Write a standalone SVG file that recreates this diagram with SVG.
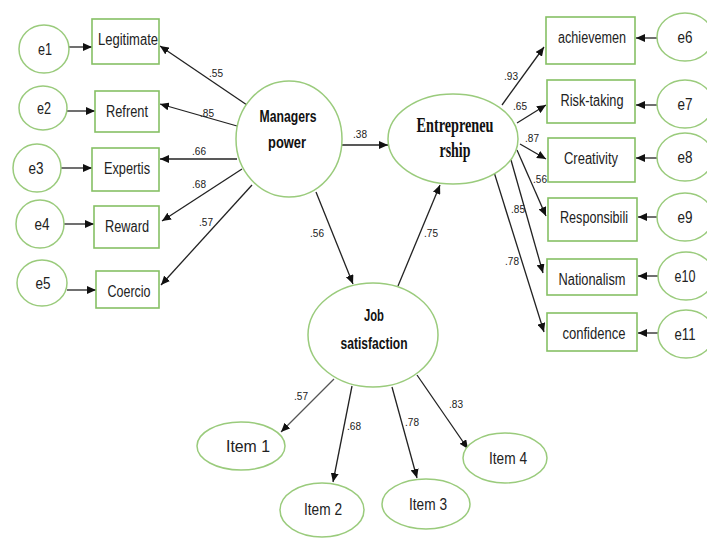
<svg xmlns="http://www.w3.org/2000/svg" width="707" height="540" viewBox="0 0 707 540">
<defs>
<marker id="ah" markerUnits="userSpaceOnUse" markerWidth="10" markerHeight="8" refX="9" refY="4" orient="auto">
<path d="M0,0 L9,4 L0,8 Z" fill="#111"/>
</marker>
<style>
.box{fill:#fff;stroke:#86c064;stroke-width:1.6}
.ell{fill:#fff;stroke:#9acb7c;stroke-width:1.5}
.ln{stroke:#222;stroke-width:1.3;fill:none;marker-end:url(#ah)}
.t{font-family:"Liberation Sans",Arial,sans-serif;font-size:16px;fill:#222;text-anchor:middle}
.lab{font-family:"Liberation Sans",Arial,sans-serif;font-size:11.5px;fill:#222;text-anchor:middle}
.b{font-family:"Liberation Sans",Arial,sans-serif;font-size:17px;font-weight:bold;fill:#111;text-anchor:middle}
.s{font-family:"Liberation Serif","Times New Roman",serif;font-size:20px;font-weight:bold;fill:#111;text-anchor:middle}
</style>
</defs>
<rect width="707" height="540" fill="#fff"/>

<g id="connectors">
<line class="ln" x1="69" y1="47" x2="92" y2="47"/>
<line class="ln" x1="67" y1="111" x2="95" y2="111"/>
<line class="ln" x1="61" y1="168" x2="92" y2="168"/>
<line class="ln" x1="63" y1="224" x2="94" y2="224"/>
<line class="ln" x1="67" y1="290" x2="96" y2="290"/>
<line class="ln" x1="247" y1="105" x2="160" y2="46"/>
<line class="ln" x1="237" y1="126" x2="160" y2="104"/>
<line class="ln" x1="237" y1="159" x2="160" y2="159"/>
<line class="ln" x1="242" y1="169" x2="162" y2="221"/>
<line class="ln" x1="252" y1="185" x2="161" y2="285"/>
<line class="ln" x1="338" y1="145" x2="388" y2="145"/>
<line class="ln" x1="316" y1="192" x2="353" y2="284"/>
<line class="ln" x1="398" y1="286" x2="440" y2="185"/>
<line class="ln" x1="502" y1="105" x2="544" y2="47"/>
<line class="ln" x1="517" y1="123" x2="546" y2="105"/>
<line class="ln" x1="520" y1="144" x2="546" y2="159"/>
<line class="ln" x1="517" y1="150" x2="546" y2="216"/>
<line class="ln" x1="511" y1="160" x2="543" y2="273"/>
<line class="ln" x1="494" y1="172" x2="544" y2="332"/>
<line class="ln" x1="657" y1="38" x2="636" y2="38"/>
<line class="ln" x1="657" y1="105" x2="636" y2="105"/>
<line class="ln" x1="657" y1="158" x2="636" y2="158"/>
<line class="ln" x1="657" y1="217" x2="638" y2="217"/>
<line class="ln" x1="658" y1="276" x2="638" y2="276"/>
<line class="ln" x1="658" y1="333" x2="638" y2="333"/>
<line class="ln" x1="334" y1="379" x2="281" y2="432" style="stroke:#555"/>
<line class="ln" x1="352" y1="386" x2="333" y2="482"/>
<line class="ln" x1="392" y1="387" x2="417" y2="478"/>
<line class="ln" x1="417" y1="375" x2="468" y2="449"/>
</g>

<g id="path-labels">
<text class="lab" x="216" y="77" textLength="14" lengthAdjust="spacingAndGlyphs">.55</text>
<text class="lab" x="207" y="117" textLength="14" lengthAdjust="spacingAndGlyphs">.85</text>
<text class="lab" x="199" y="155" textLength="14" lengthAdjust="spacingAndGlyphs">.66</text>
<text class="lab" x="199" y="188" textLength="14" lengthAdjust="spacingAndGlyphs">.68</text>
<text class="lab" x="206" y="226" textLength="14" lengthAdjust="spacingAndGlyphs">.57</text>
<text class="lab" x="317" y="237" textLength="14" lengthAdjust="spacingAndGlyphs">.56</text>
<text class="lab" x="360" y="138" textLength="14" lengthAdjust="spacingAndGlyphs">.38</text>
<text class="lab" x="431" y="237" textLength="14" lengthAdjust="spacingAndGlyphs">.75</text>
<text class="lab" x="511" y="80" textLength="14" lengthAdjust="spacingAndGlyphs">.93</text>
<text class="lab" x="520" y="110" textLength="14" lengthAdjust="spacingAndGlyphs">.65</text>
<text class="lab" x="532" y="142" textLength="14" lengthAdjust="spacingAndGlyphs">.87</text>
<text class="lab" x="540" y="183" textLength="14" lengthAdjust="spacingAndGlyphs">.56</text>
<text class="lab" x="518" y="213" textLength="14" lengthAdjust="spacingAndGlyphs">.85</text>
<text class="lab" x="512" y="265" textLength="14" lengthAdjust="spacingAndGlyphs">.78</text>
<text class="lab" x="301" y="400" textLength="14" lengthAdjust="spacingAndGlyphs">.57</text>
<text class="lab" x="354" y="430" textLength="14" lengthAdjust="spacingAndGlyphs">.68</text>
<text class="lab" x="412" y="426" textLength="14" lengthAdjust="spacingAndGlyphs">.78</text>
<text class="lab" x="456" y="408" textLength="14" lengthAdjust="spacingAndGlyphs">.83</text>
</g>

<g id="e1"><ellipse class="ell" cx="44" cy="49" rx="25" ry="24"/><text class="t" x="45" y="55" textLength="14" lengthAdjust="spacingAndGlyphs">e1</text></g>
<g id="e2"><ellipse class="ell" cx="43" cy="108" rx="24" ry="22"/><text class="t" x="44" y="114" textLength="14" lengthAdjust="spacingAndGlyphs">e2</text></g>
<g id="e3"><ellipse class="ell" cx="37" cy="168" rx="24" ry="24"/><text class="t" x="36" y="174" textLength="15" lengthAdjust="spacingAndGlyphs">e3</text></g>
<g id="e4"><ellipse class="ell" cx="40" cy="224" rx="24" ry="24"/><text class="t" x="42" y="230" textLength="15" lengthAdjust="spacingAndGlyphs">e4</text></g>
<g id="e5"><ellipse class="ell" cx="42" cy="283" rx="25" ry="23"/><text class="t" x="43" y="289" textLength="15" lengthAdjust="spacingAndGlyphs">e5</text></g>

<g id="legitimate"><rect class="box" x="92" y="19" width="67" height="45"/><text class="t" x="128" y="45" textLength="60" lengthAdjust="spacingAndGlyphs">Legitimate</text></g>
<g id="refrent"><rect class="box" x="95" y="91" width="64" height="41"/><text class="t" x="127" y="117" textLength="42" lengthAdjust="spacingAndGlyphs">Refrent</text></g>
<g id="expertis"><rect class="box" x="92" y="148" width="67" height="43"/><text class="t" x="127" y="174" textLength="46" lengthAdjust="spacingAndGlyphs">Expertis</text></g>
<g id="reward"><rect class="box" x="94" y="206" width="65" height="42"/><text class="t" x="127" y="232" textLength="44" lengthAdjust="spacingAndGlyphs">Reward</text></g>
<g id="coercio"><rect class="box" x="96" y="271" width="63" height="37"/><text class="t" x="129" y="297" textLength="43" lengthAdjust="spacingAndGlyphs">Coercio</text></g>

<g id="managers-power"><ellipse class="ell" cx="289" cy="139" rx="53" ry="58"/>
<text class="b" x="288" y="122" textLength="57" lengthAdjust="spacingAndGlyphs">Managers</text>
<text class="b" x="287" y="148" textLength="38" lengthAdjust="spacingAndGlyphs">power</text></g>

<g id="entrepreneurship"><ellipse class="ell" cx="453" cy="139" rx="65" ry="45"/>
<text class="s" x="455" y="132" textLength="77" lengthAdjust="spacingAndGlyphs">Entrepreneu</text>
<text class="s" x="455" y="157" textLength="31" lengthAdjust="spacingAndGlyphs">rship</text></g>

<g id="job-satisfaction"><ellipse class="ell" cx="373" cy="335" rx="65" ry="52"/>
<text class="b" x="374" y="321" textLength="20" lengthAdjust="spacingAndGlyphs">Job</text>
<text class="b" x="374" y="349" textLength="67" lengthAdjust="spacingAndGlyphs">satisfaction</text></g>

<g id="achievemen"><rect class="box" x="546" y="17" width="89" height="47"/><text class="t" x="592" y="43" textLength="68" lengthAdjust="spacingAndGlyphs">achievemen</text></g>
<g id="risk-taking"><rect class="box" x="547" y="80" width="88" height="43"/><text class="t" x="592" y="106" textLength="63" lengthAdjust="spacingAndGlyphs">Risk-taking</text></g>
<g id="creativity"><rect class="box" x="548" y="138" width="87" height="44"/><text class="t" x="591" y="164" textLength="54" lengthAdjust="spacingAndGlyphs">Creativity</text></g>
<g id="responsibili"><rect class="box" x="548" y="198" width="89" height="43"/><text class="t" x="594" y="223" textLength="68" lengthAdjust="spacingAndGlyphs">Responsibili</text></g>
<g id="nationalism"><rect class="box" x="547" y="259" width="90" height="36"/><text class="t" x="592" y="285" textLength="67" lengthAdjust="spacingAndGlyphs">Nationalism</text></g>
<g id="confidence"><rect class="box" x="547" y="313" width="90" height="38"/><text class="t" x="594" y="339" textLength="63" lengthAdjust="spacingAndGlyphs">confidence</text></g>

<g id="e6"><ellipse class="ell" cx="685" cy="37" rx="28" ry="24"/><text class="t" x="685" y="43" textLength="15" lengthAdjust="spacingAndGlyphs">e6</text></g>
<g id="e7"><ellipse class="ell" cx="685" cy="104" rx="28" ry="24"/><text class="t" x="685" y="110" textLength="15" lengthAdjust="spacingAndGlyphs">e7</text></g>
<g id="e8"><ellipse class="ell" cx="685" cy="157" rx="28" ry="24"/><text class="t" x="685" y="163" textLength="15" lengthAdjust="spacingAndGlyphs">e8</text></g>
<g id="e9"><ellipse class="ell" cx="685" cy="217" rx="28" ry="24"/><text class="t" x="685" y="223" textLength="15" lengthAdjust="spacingAndGlyphs">e9</text></g>
<g id="e10"><ellipse class="ell" cx="686" cy="276" rx="28" ry="24"/><text class="t" x="685" y="282" textLength="21" lengthAdjust="spacingAndGlyphs">e10</text></g>
<g id="e11"><ellipse class="ell" cx="686" cy="334" rx="28" ry="24"/><text class="t" x="685" y="340" textLength="21" lengthAdjust="spacingAndGlyphs">e11</text></g>

<g id="item1"><ellipse class="ell" cx="241" cy="446" rx="44" ry="24"/><text class="t" x="248" y="452" textLength="44" lengthAdjust="spacingAndGlyphs">Item 1</text></g>
<g id="item2"><ellipse class="ell" cx="322" cy="510" rx="42" ry="27"/><text class="t" x="323" y="515" textLength="38" lengthAdjust="spacingAndGlyphs">Item 2</text></g>
<g id="item3"><ellipse class="ell" cx="426" cy="504" rx="44" ry="25"/><text class="t" x="428" y="510" textLength="38" lengthAdjust="spacingAndGlyphs">Item 3</text></g>
<g id="item4"><ellipse class="ell" cx="505" cy="458" rx="42" ry="25"/><text class="t" x="508" y="464" textLength="38" lengthAdjust="spacingAndGlyphs">Item 4</text></g>
</svg>
